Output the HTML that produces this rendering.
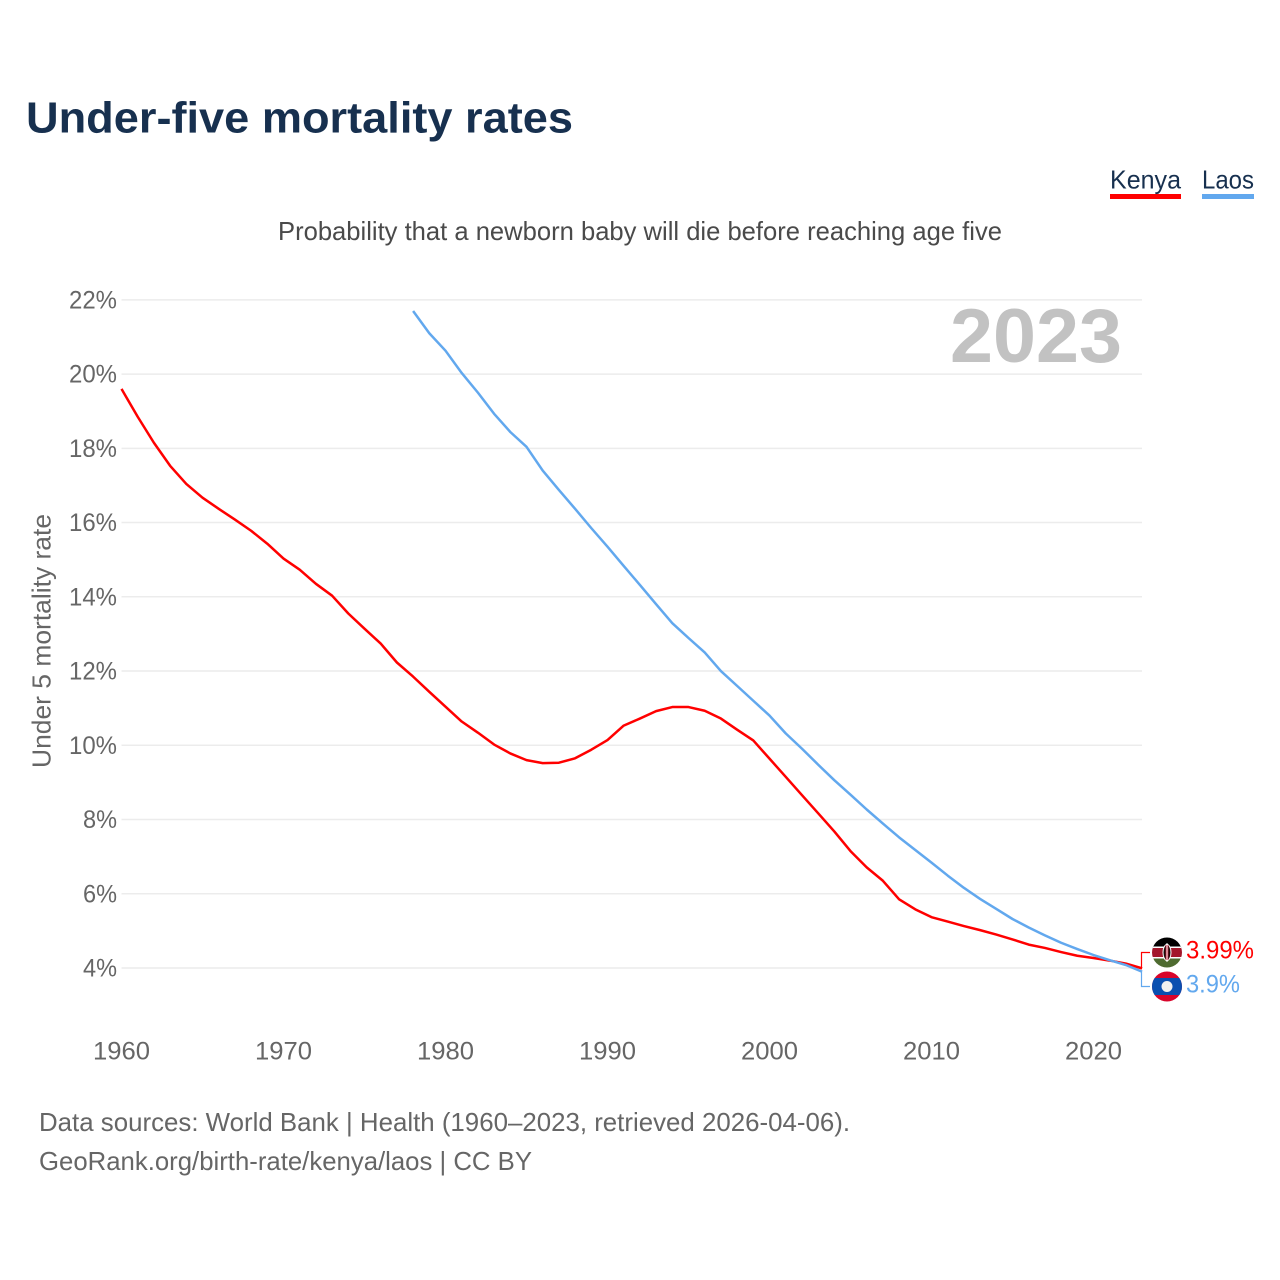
<!DOCTYPE html>
<html lang="en">
<head>
<meta charset="utf-8">
<title>Under-five mortality rates</title>
<style>
html,body{margin:0;padding:0;background:#fff;width:1280px;height:1280px;overflow:hidden}
svg{display:block}
text{font-family:"Liberation Sans",sans-serif}
</style>
</head>
<body>
<svg id="chart" xmlns="http://www.w3.org/2000/svg" width="1280" height="1280" viewBox="0 0 1280 1280">
  <rect width="1280" height="1280" fill="#ffffff"/>
  <text x="26" y="132.5" font-size="44" font-weight="700" fill="#17304f" textLength="547" lengthAdjust="spacingAndGlyphs">Under-five mortality rates</text>
  <text x="1110" y="188.5" font-size="26" fill="#17304f" textLength="71" lengthAdjust="spacingAndGlyphs">Kenya</text>
  <rect x="1110" y="194" width="71" height="5" fill="#ff0000"/>
  <text x="1202" y="188.5" font-size="26" fill="#17304f" textLength="52" lengthAdjust="spacingAndGlyphs">Laos</text>
  <rect x="1202" y="194" width="52" height="5" fill="#62a8ee"/>
  <text x="278" y="240" font-size="26" fill="#4a4a4a" textLength="724" lengthAdjust="spacingAndGlyphs">Probability that a newborn baby will die before reaching age five</text>
  <text transform="translate(50.5,641) rotate(-90)" text-anchor="middle" font-size="26" fill="#666666" textLength="254" lengthAdjust="spacingAndGlyphs">Under 5 mortality rate</text>
  <g id="grid"></g>
  <g id="yticks"></g>
  <g id="xticks"></g>
  <text x="1122" y="362" text-anchor="end" font-size="76" font-weight="700" fill="#c2c2c2" textLength="172" lengthAdjust="spacingAndGlyphs">2023</text>
  <g id="series"></g>
  <g id="ends"></g>
  <defs>
    <clipPath id="clip-ke"><circle cx="1167" cy="952.5" r="15"/></clipPath>
    <clipPath id="clip-la"><circle cx="1167" cy="986.5" r="15"/></clipPath>
  </defs>
  <g clip-path="url(#clip-ke)">
    <rect x="1150" y="936" width="34" height="12" fill="#000000"/>
    <rect x="1150" y="946.5" width="34" height="12" fill="#ffffff"/>
    <rect x="1150" y="948" width="34" height="9" fill="#a3172b"/>
    <rect x="1150" y="958.5" width="34" height="10" fill="#4e6b30"/>
    <ellipse cx="1167" cy="952.5" rx="4" ry="8" fill="#1a0a0a" stroke="#ffffff" stroke-width="1"/>
    <rect x="1165.6" y="945" width="2.8" height="15" fill="#b5162c"/>
    <rect x="1166.5" y="943" width="1" height="19" fill="#ffffff"/>
  </g>
  <g clip-path="url(#clip-la)">
    <rect x="1150" y="970" width="34" height="34" fill="#d9042b"/>
    <rect x="1150" y="978" width="34" height="17" fill="#0a4fb0"/>
    <circle cx="1167" cy="986.5" r="5.5" fill="#f0f0f0"/>
  </g>
  <text x="39" y="1131" font-size="26" fill="#666666" textLength="811" lengthAdjust="spacingAndGlyphs">Data sources: World Bank | Health (1960–2023, retrieved 2026-04-06).</text>
  <text x="39" y="1170" font-size="26" fill="#666666" textLength="493" lengthAdjust="spacingAndGlyphs">GeoRank.org/birth-rate/kenya/laos | CC BY</text>
</svg>
<script>
const kenyaStart = 1960;
const kenyaValues = [19.6,18.85,18.15,17.53,17.04,16.67,16.37,16.08,15.78,15.43,15.03,14.73,14.35,14.03,13.55,13.14,12.74,12.23,11.85,11.44,11.04,10.64,10.34,10.02,9.78,9.6,9.52,9.53,9.65,9.88,10.14,10.53,10.72,10.92,11.03,11.03,10.93,10.72,10.42,10.13,9.64,9.15,8.66,8.17,7.68,7.15,6.71,6.35,5.85,5.58,5.37,5.25,5.13,5.02,4.9,4.77,4.63,4.54,4.43,4.33,4.27,4.2,4.12,3.99];
const laosStart = 1978;
const laosValues = [21.7,21.1,20.63,20.03,19.5,18.93,18.44,18.04,17.4,16.88,16.37,15.85,15.35,14.83,14.32,13.8,13.29,12.89,12.5,12.0,11.6,11.2,10.8,10.32,9.91,9.48,9.06,8.67,8.27,7.89,7.52,7.18,6.84,6.49,6.16,5.86,5.59,5.32,5.09,4.88,4.68,4.51,4.35,4.21,4.08,3.9];
const yTicks = [4,6,8,10,12,14,16,18,20,22];
const xTicks = [1960,1970,1980,1990,2000,2010,2020];
const kenyaEndLabel = "3.99%";
const laosEndLabel = "3.9%";

const NS = "http://www.w3.org/2000/svg";
function xScale(year){ return 121.5 + (year - 1960) * 16.2; }
function yScale(v){ return 968 - (v - 4) * 37.12; }
function make(tag, parent, attrs){
  const el = document.createElementNS(NS, tag);
  for (const k in attrs) el.setAttribute(k, attrs[k]);
  parent.appendChild(el);
  return el;
}
const grid = document.getElementById("grid");
const yG = document.getElementById("yticks");
yTicks.forEach(function(t){
  const line = make("line", grid, {x1:121.5, x2:1142, y1:yScale(t), y2:yScale(t), stroke:"#ececec", "stroke-width":1.5});
  
  
  const txt = t + "%";
  const lab = make("text", yG, {x:117, y:yScale(t)+8.5, "text-anchor":"end", "font-size":25, fill:"#666666", textLength: txt.length === 3 ? 48 : 34, lengthAdjust:"spacingAndGlyphs"});
  
  
  lab.textContent = txt;
});
const xG = document.getElementById("xticks");
xTicks.forEach(function(t){
  const lab = make("text", xG, {x:xScale(t), y:1059.5, "text-anchor":"middle", "font-size":25, fill:"#666666", textLength:57, lengthAdjust:"spacingAndGlyphs"});
  
  
  lab.textContent = t;
});
function linePath(start, values){
  return values.map(function(v,i){ return (i ? "L" : "M") + xScale(start+i).toFixed(2) + " " + yScale(v).toFixed(2); }).join("");
}
const series = document.getElementById("series");
const kLast = yScale(kenyaValues[kenyaValues.length-1]);
const lLast = yScale(laosValues[laosValues.length-1]);
const kenyaLine = make("path", series, {d:linePath(kenyaStart,kenyaValues), fill:"none", stroke:"#ff0000", "stroke-width":2.5, "stroke-linejoin":"round"});


const laosLine = make("path", series, {d:linePath(laosStart,laosValues), fill:"none", stroke:"#62a8ee", "stroke-width":2.5, "stroke-linejoin":"round"});



const ends = document.getElementById("ends");
const kConn = make("path", ends, {d:"M1141.5 "+kLast.toFixed(1)+"V952.5H1150", fill:"none", stroke:"#ff0000", "stroke-width":1.2});


const lConn = make("path", ends, {d:"M1141.5 "+lLast.toFixed(1)+"V986.5H1150", fill:"none", stroke:"#62a8ee", "stroke-width":1.2});


const kLab = make("text", ends, {x:1186, y:958.5, "font-size":25, fill:"#ff0000", textLength:68, lengthAdjust:"spacingAndGlyphs"});


kLab.textContent = kenyaEndLabel;
const lLab = make("text", ends, {x:1186, y:992.5, "font-size":25, fill:"#62a8ee", textLength:54, lengthAdjust:"spacingAndGlyphs"});


lLab.textContent = laosEndLabel;
</script>
</body>
</html>
